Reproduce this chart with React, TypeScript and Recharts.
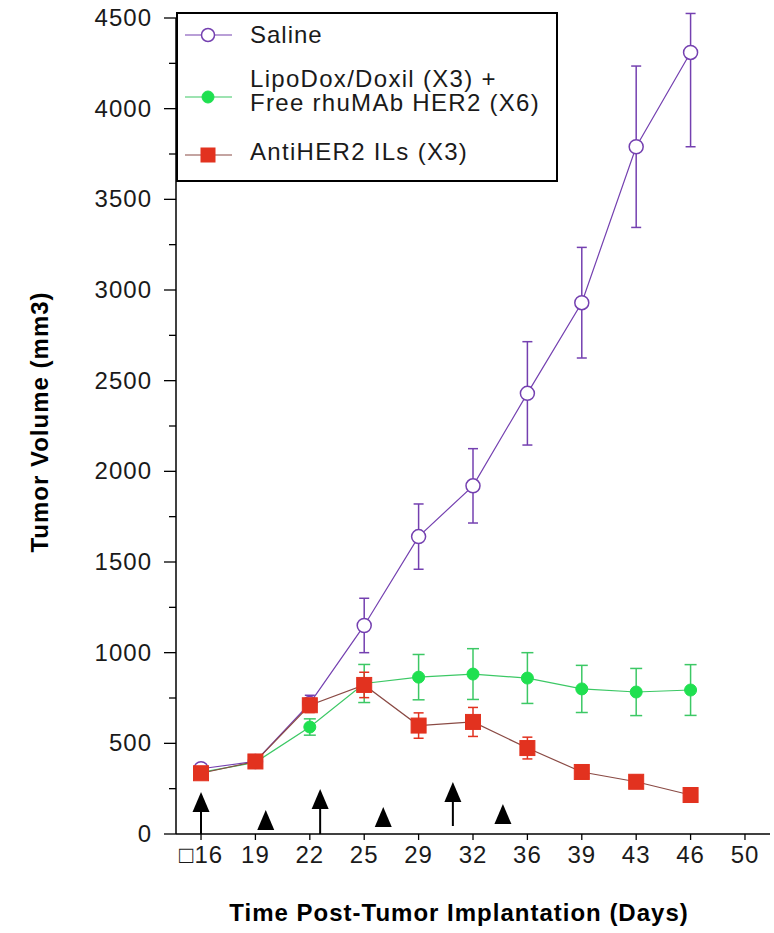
import React from 'react';
import { ComposedChart, Line, XAxis, YAxis, ErrorBar, ReferenceLine, Legend } from 'recharts';

// ---- data ----
const dayLabels = ['\u25A116', '19', '22', '25', '29', '32', '36', '39', '43', '46', '50'];
const xTickIdx = [0, 1, 2, 3, 4, 5, 6, 7, 8, 9, 10];
const yTicks = [0, 250, 500, 750, 1000, 1250, 1500, 1750, 2000, 2250, 2500, 2750, 3000, 3250, 3500, 3750, 4000, 4250, 4500];

const seriesNames = ['Saline', 'LipoDox/Doxil (X3) +', 'Free rhuMAb HER2 (X6)', 'AntiHER2 ILs (X3)'];

const salineVals = [360, 400, 720, 1150, 1640, 1920, 2430, 2930, 3790, 4310];
const salineErrLow = [20, 25, 45, 150, 180, 205, 285, 305, 445, 520];
const salineErrHigh = [20, 25, 45, 150, 180, 205, 285, 305, 445, 215];
const lipoVals = [340, 395, 590, 830, 865, 882, 860, 800, 783, 794];
const lipoErr = [15, 20, 45, 105, 125, 140, 140, 130, 130, 140];
const antiVals = [335, 400, 710, 822, 598, 618, 474, 342, 288, 215];
const antiErr = [15, 20, 40, 70, 70, 80, 60, 30, 35, 20];

// treatment arrows: x position (in day-index units), tip and base (mm3)
const arrowIdx = [0, 1.19, 2.19, 3.35, 4.63, 5.55];
const arrowTip = [232, 132, 248, 149, 287, 165];
const arrowBase = [0, 17, 0, 33, 44, 44];

const data = salineVals.map((v, i) => ({
  idx: i,
  saline: v,
  salineErr: [salineErrLow[i], salineErrHigh[i]],
  lipo: lipoVals[i],
  lipoErr: lipoErr[i],
  anti: antiVals[i],
  antiErr: antiErr[i],
}));

const FONT = '"Liberation Sans", Arial, Helvetica, sans-serif';
const PURPLE = '#7440b0';
const GREEN = '#1fe050';
const GREEN_LINE = '#3cc865';
const RED = '#e2321f';
const RED_LINE = '#8a4a44';

const YTick = (p: any) => {
  const { x, y, payload } = p;
  const major = payload.value % 500 === 0;
  return (
    <g>
      <line x1={x - (major ? 12 : 7)} x2={x} y1={y} y2={y} stroke="#000" strokeWidth={1.3} />
      {major && (
        <text x={x - 24} y={y + 8} textAnchor="end" fontSize={24} fill="#1a1a1a" fontFamily={FONT} letterSpacing={1}>
          {payload.value}
        </text>
      )}
    </g>
  );
};

const XTick = (p: any) => {
  const { x, y, payload } = p;
  return (
    <text x={x} y={y + 19} textAnchor="middle" fontSize={24} fill="#1a1a1a" fontFamily={FONT} letterSpacing={1}>
      {dayLabels[payload.value]}
    </text>
  );
};

const Arrow = (p: any) => {
  const { x1, y1, x2, y2 } = p;
  const tipY = Math.min(y1, y2);
  const baseY = Math.max(y1, y2);
  const x = x1;
  const headH = 20;
  const headW = 17;
  return (
    <g>
      {baseY - tipY > headH + 2 && (
        <line x1={x} x2={x} y1={tipY + headH - 2} y2={baseY} stroke="#000" strokeWidth={2} />
      )}
      <polygon points={`${x},${tipY} ${x - headW / 2},${tipY + headH} ${x + headW / 2},${tipY + headH}`} fill="#000" />
    </g>
  );
};

const SquareDot = (p: any) => {
  const { cx, cy, index } = p;
  if (cx == null || cy == null) return <g key={`sq-${index}`} />;
  return <rect key={`sq-${index}`} x={cx - 7.5} y={cy - 7.5} width={15} height={15} fill={RED} stroke={RED} />;
};

const LegendBox = () => (
  <svg width={382} height={171} style={{ display: 'block' }}>
    <rect x={1} y={1} width={380} height={168} fill="#fff" stroke="#000" strokeWidth={2} />
    <line x1={9} x2={56} y1={23} y2={23} stroke={PURPLE} strokeWidth={1.2} />
    <circle cx={32} cy={23} r={6.5} fill="#fff" stroke={PURPLE} strokeWidth={1.5} />
    <text x={74} y={31} fontSize={24} fontFamily={FONT} fill="#1a1a1a" letterSpacing={1}>{seriesNames[0]}</text>
    <line x1={9} x2={56} y1={85} y2={85} stroke={GREEN_LINE} strokeWidth={1.2} />
    <circle cx={32} cy={85} r={6} fill={GREEN} stroke={GREEN} />
    <text x={74} y={75} fontSize={24} fontFamily={FONT} fill="#1a1a1a" letterSpacing={1.3}>{seriesNames[1]}</text>
    <text x={74} y={99} fontSize={24} fontFamily={FONT} fill="#1a1a1a" letterSpacing={1.3}>{seriesNames[2]}</text>
    <line x1={9} x2={56} y1={143} y2={143} stroke={RED_LINE} strokeWidth={1.2} />
    <rect x={24.5} y={135.5} width={15} height={15} fill={RED} />
    <text x={74} y={148} fontSize={24} fontFamily={FONT} fill="#1a1a1a" letterSpacing={1.3}>{seriesNames[3]}</text>
  </svg>
);

export default function App() {
  return (
    <div style={{ position: 'absolute', left: 0, top: 0, background: '#fff' }}>
      <ComposedChart width={774} height={933} data={data} margin={{ top: 18, right: 4, bottom: 0, left: 0 }}>
        <XAxis
          type="number"
          dataKey="idx"
          domain={[-0.46, 10.46]}
          ticks={xTickIdx}
          interval={0}
          tick={<XTick />}
          tickSize={6}
          tickMargin={4}
          height={99}
          axisLine={{ stroke: '#000', strokeWidth: 1.5 }}
          tickLine={{ stroke: '#000', strokeWidth: 1.3 }}
          allowDataOverflow
          label={{
            content: (p: any) => {
              const vb = p.viewBox;
              return (
                <text x={vb.x + vb.width / 2 - 14} y={vb.y + 87} textAnchor="middle" fontSize={24} fontWeight="bold" fontFamily={FONT} fill="#000" letterSpacing={1}>
                  Time Post-Tumor Implantation (Days)
                </text>
              );
            },
          }}
        />
        <YAxis
          type="number"
          domain={[0, 4500]}
          ticks={yTicks}
          interval={0}
          width={176}
          tickSize={0}
          tickMargin={0}
          tickLine={false}
          tick={<YTick />}
          allowDataOverflow
          axisLine={{ stroke: '#000', strokeWidth: 1.5 }}
          label={{
            content: (p: any) => {
              const vb = p.viewBox;
              const cx = vb.x + 39;
              const cy = vb.y + vb.height / 2 - 4;
              return (
                <text x={cx} y={cy} transform={`rotate(-90 ${cx} ${cy})`} textAnchor="middle" dominantBaseline="central" fontSize={24} fontWeight="bold" fontFamily={FONT} fill="#000" letterSpacing={1}>
                  Tumor Volume (mm3)
                </text>
              );
            },
          }}
        />
        <Legend
          layout="horizontal"
          verticalAlign="middle"
          align="center"
          content={() => <LegendBox />}
          wrapperStyle={{ left: 176, top: 12, width: 382, height: 171 }}
        />
        {arrowIdx.map((xi, i) => (
          <ReferenceLine
            key={`arr-${i}`}
            segment={[{ x: xi, y: arrowBase[i] }, { x: xi, y: arrowTip[i] }]}
            shape={Arrow}
            ifOverflow="visible"
          />
        ))}
        <Line
          type="linear"
          dataKey="saline"
          stroke={PURPLE}
          strokeWidth={1.2}
          dot={{ r: 7, fill: '#fff', stroke: PURPLE, strokeWidth: 1.5 }}
          isAnimationActive={false}
        >
          <ErrorBar dataKey="salineErr" direction="y" width={5} stroke={PURPLE} strokeWidth={1.5} />
        </Line>
        <Line
          type="linear"
          dataKey="lipo"
          stroke={GREEN_LINE}
          strokeWidth={1.2}
          dot={{ r: 6, fill: GREEN, stroke: GREEN, strokeWidth: 1 }}
          isAnimationActive={false}
        >
          <ErrorBar dataKey="lipoErr" direction="y" width={6} stroke={GREEN_LINE} strokeWidth={1.5} />
        </Line>
        <Line
          type="linear"
          dataKey="anti"
          stroke={RED_LINE}
          strokeWidth={1.2}
          dot={SquareDot}
          isAnimationActive={false}
        >
          <ErrorBar dataKey="antiErr" direction="y" width={5} stroke={RED} strokeWidth={1.5} />
        </Line>
      </ComposedChart>
    </div>
  );
}
